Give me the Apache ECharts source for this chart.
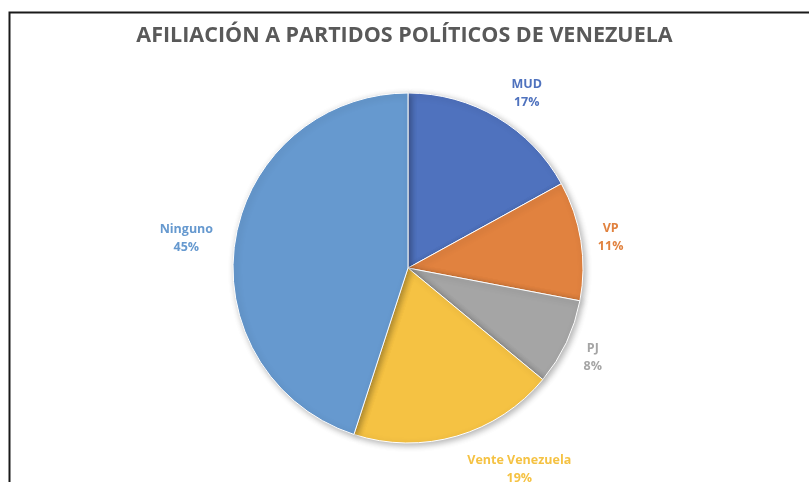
<!DOCTYPE html>
<html>
<head>
<meta charset="utf-8">
<script src="https://cdn.jsdelivr.net/npm/echarts@6/dist/echarts.min.js"></script>
<style>
  html, body { margin: 0; padding: 0; background: #fff; }
  #chart-1 { width: 809px; height: 482px; }
</style>
</head>
<body>
<div id="chart-1"></div>
<script>
var partidos = ['MUD', 'VP', 'PJ', 'Vente Venezuela', 'Ninguno'];
var porcentajes = [17, 11, 8, 19, 45];
var colores = ['#4F72BE', '#E1823F', '#A5A5A5', '#F5C243', '#6699CF'];

var fuente = '"Open Sans", "Noto Sans", sans-serif';
var dom = document.getElementById("chart-1");
var myChart = echarts.init(dom);

// ancho del nombre para centrar el porcentaje debajo
var ctx = document.createElement('canvas').getContext('2d');
ctx.font = 'bold 12.5px ' + fuente;

// ajuste vertical de cada etiqueta [arriba, abajo]
var relleno = [[0, 20], [0, 2], [16, 0], [36, 0], [0, 0]];

var datos = partidos.map(function (nombre, i) {
    var w = Math.ceil(ctx.measureText(nombre).width) + 2;
    return {
        name: nombre,
        value: porcentajes[i],
        itemStyle: { color: colores[i] },
        label: {
            color: colores[i],
            padding: [relleno[i][0], 0, relleno[i][1], 0],
            rich: { t: { width: w, align: 'center', color: colores[i] } }
        }
    };
});

var option = {
    backgroundColor: '#fff',
    animation: false,
    title: {
        text: 'AFILIACIÓN A PARTIDOS POLÍTICOS DE VENEZUELA',
        left: 'center',
        top: 20,
        textStyle: {
            color: '#595959',
            fontSize: 21.5,
            fontWeight: 'bold',
            fontFamily: fuente
        }
    },
    graphic: [{
        type: 'polyline',
        shape: { points: [[9.5, 482], [9.5, 12.5], [809, 12.5]] },
        style: { stroke: '#1a1a1a', lineWidth: 2, fill: null }
    }],
    series: [{
        type: 'pie',
        center: [408, 268],
        radius: 175,
        startAngle: 90,
        clockwise: true,
        avoidLabelOverlap: false,
        itemStyle: {
            borderColor: '#fff',
            borderWidth: 1,
            shadowBlur: 6,
            shadowOffsetX: 2,
            shadowOffsetY: 2,
            shadowColor: 'rgba(0,0,0,0.3)'
        },
        label: {
            show: true,
            position: 'outside',
            formatter: '{t|{b}}\n{t|{c}%}',
            fontSize: 12.5,
            fontWeight: 'bold',
            lineHeight: 18,
            fontFamily: fuente,
            rich: { t: { fontSize: 12.5, fontWeight: 'bold', lineHeight: 18, fontFamily: fuente } }
        },
        labelLine: { show: false, length: 16, length2: 0 },
        emphasis: { disabled: true },
        data: datos
    }]
};

myChart.setOption(option);
</script>
</body>
</html>
